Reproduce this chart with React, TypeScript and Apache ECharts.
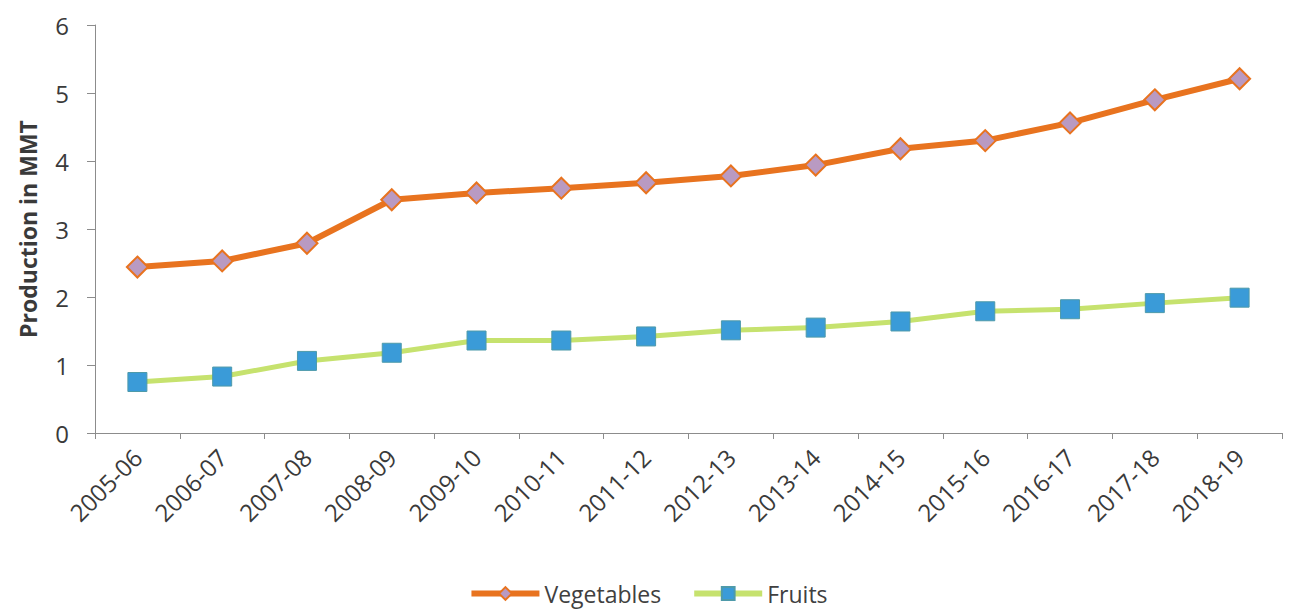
import React, { useEffect, useRef } from "react";
import * as echarts from "echarts";

const categories = [
  "2005-06", "2006-07", "2007-08", "2008-09", "2009-10", "2010-11", "2011-12",
  "2012-13", "2013-14", "2014-15", "2015-16", "2016-17", "2017-18", "2018-19",
];
const vegetables = [2.44, 2.53, 2.79, 3.43, 3.53, 3.6, 3.68, 3.78, 3.94, 4.18, 4.3, 4.56, 4.9, 5.21];
const fruits = [0.75, 0.83, 1.06, 1.18, 1.36, 1.36, 1.42, 1.51, 1.55, 1.64, 1.79, 1.82, 1.91, 1.99];
const yTicks = { min: 0, max: 6, interval: 1 };

export default function App() {
  const ref = useRef<HTMLDivElement>(null);
  useEffect(() => {
    const chart = echarts.init(ref.current!, undefined, { renderer: "svg" });
    chart.setOption({
      animation: false,
      backgroundColor: "#ffffff",
      textStyle: { fontFamily: "Open Sans" },
      grid: { left: 82, right: 6, top: 17, bottom: 176, containLabel: false },
      legend: {
        top: 569,
        left: "center",
        itemWidth: 68,
        itemHeight: 16,
        itemGap: 30,
        textStyle: { fontSize: 23, color: "#404040", fontFamily: "Open Sans" },
        data: [
          { name: "Vegetables", lineStyle: { width: 6 } },
          { name: "Fruits", lineStyle: { width: 6 } },
        ],
      },
      xAxis: {
        type: "category",
        data: categories,
        boundaryGap: true,
        axisLine: { lineStyle: { color: "#8c8c8c", width: 1 } },
        axisTick: { show: true, alignWithLabel: false, length: 6, lineStyle: { color: "#8c8c8c" } },
        axisLabel: { rotate: 45, fontSize: 24, color: "#3a3a3a", margin: 20, interval: 0 },
      },
      yAxis: {
        type: "value",
        min: yTicks.min,
        max: yTicks.max,
        interval: yTicks.interval,
        name: "Production in MMT",
        nameLocation: "middle",
        nameGap: 56,
        nameTextStyle: { fontSize: 23, fontWeight: "bold", color: "#3a3a3a" },
        axisLine: { show: true, lineStyle: { color: "#8c8c8c", width: 1 } },
        axisTick: { show: true, length: 8, lineStyle: { color: "#8c8c8c" } },
        axisLabel: { fontSize: 24, color: "#3a3a3a", margin: 26 },
        splitLine: { show: false },
      },
      series: [
        {
          name: "Vegetables",
          type: "line",
          data: vegetables,
          symbol: "diamond",
          symbolSize: 21,
          lineStyle: { color: "#E8731F", width: 6 },
          itemStyle: { color: "#B99AC2", borderColor: "#E8731F", borderWidth: 2 },
        },
        {
          name: "Fruits",
          type: "line",
          data: fruits,
          symbol: "rect",
          symbolSize: 19,
          lineStyle: { color: "#C6E26E", width: 5 },
          itemStyle: { color: "#3A9BD8", borderColor: "#4E9AAA", borderWidth: 1 },
        },
      ],
    });
    return () => chart.dispose();
  }, []);
  return <div ref={ref} style={{ width: 1280, height: 601 }} />;
}
